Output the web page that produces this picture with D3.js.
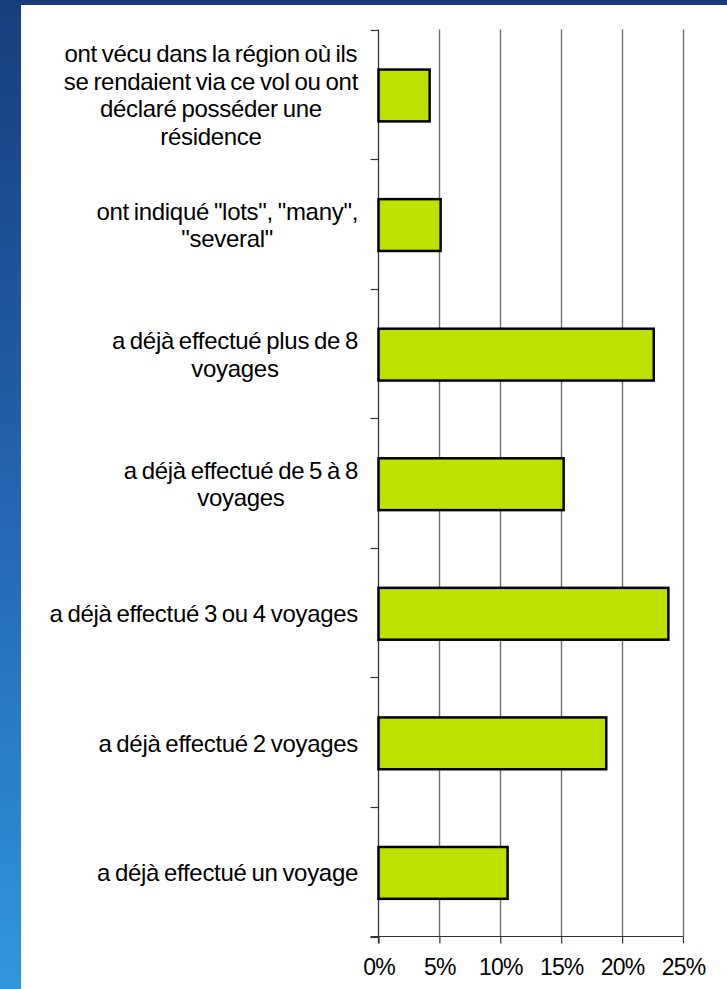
<!DOCTYPE html>
<html>
<head>
<meta charset="utf-8">
<script src="https://cdn.jsdelivr.net/npm/d3@7"></script>
<style>
  html, body { margin: 0; padding: 0; }
  body { width: 727px; height: 989px; overflow: hidden; }
  text { font-family: "Liberation Sans", Arial, sans-serif; fill: #000; }
</style>
</head>
<body>
<svg id="chart" width="727" height="989"></svg>
<script>
// ---- data ----
const categories = [
  "ont vécu dans la région où ils|se rendaient via ce vol ou ont|déclaré posséder une|résidence",
  "ont indiqué \"lots\", \"many\",|\"several\"",
  "a déjà effectué plus de 8|voyages",
  "a déjà effectué de 5 à 8|voyages",
  "a déjà effectué 3 ou 4 voyages",
  "a déjà effectué 2 voyages",
  "a déjà effectué un voyage"
];
const values = [4.2, 5.1, 22.6, 15.2, 23.8, 18.7, 10.6];
const tickValues = [0, 5, 10, 15, 20, 25];
const tickLabels = ["0%", "5%", "10%", "15%", "20%", "25%"];

// ---- layout ----
const svg = d3.select("#chart");
const W = 727, H = 989;
const plot = { left: 378.5, right: 683, top: 29.5, bottom: 936.5 };

// background
const defs = svg.append("defs");
const grad = defs.append("linearGradient").attr("id", "bg").attr("x1", 0).attr("y1", 0).attr("x2", 0).attr("y2", 1);
grad.append("stop").attr("offset", "0%").attr("stop-color", "#183d7d");
grad.append("stop").attr("offset", "50%").attr("stop-color", "#2464b0");
grad.append("stop").attr("offset", "100%").attr("stop-color", "#2f98db");
svg.append("rect").attr("x", 0).attr("y", 0).attr("width", W).attr("height", H).attr("fill", "url(#bg)");
svg.append("rect").attr("x", 21).attr("y", 5).attr("width", W - 21).attr("height", H - 5).attr("fill", "#fff");

const x = d3.scaleLinear().domain([0, 25]).range([plot.left, plot.right]);
const y = d3.scaleBand().domain(categories).range([plot.top, plot.bottom]).paddingInner(0.6).paddingOuter(0.3);
const yEdge = d3.scaleLinear().domain([0, categories.length]).range([plot.top, plot.bottom]);

// gridlines
svg.append("g").selectAll("line").data(tickValues.filter(d => d > 0)).join("line")
  .attr("x1", d => Math.round(x(d)) + 0.5).attr("x2", d => Math.round(x(d)) + 0.5)
  .attr("y1", plot.top).attr("y2", plot.bottom)
  .attr("stroke", "#6e6e6e").attr("stroke-width", 1.4);

// bottom axis
const xAxis = d3.axisBottom(x).tickValues(tickValues).tickSize(7).tickPadding(15)
  .tickFormat((d, i) => tickLabels[i]);
const gx = svg.append("g").attr("transform", `translate(0,${plot.bottom})`).call(xAxis);
gx.select(".domain").remove();
gx.selectAll(".tick line").attr("stroke", "#333").attr("stroke-width", 1.2);
gx.selectAll(".tick text").attr("font-size", "23px").attr("fill", "#000")
  .style("font-family", "'Liberation Sans', Arial, sans-serif").attr("letter-spacing", "-0.8px");
svg.append("line").attr("x1", plot.left - 8).attr("x2", plot.right).attr("y1", plot.bottom).attr("y2", plot.bottom)
  .attr("stroke", "#333").attr("stroke-width", 1.2);

// left axis
svg.append("line").attr("x1", plot.left).attr("x2", plot.left).attr("y1", plot.top).attr("y2", plot.bottom + 7)
  .attr("stroke", "#333").attr("stroke-width", 1.3);
svg.append("g").selectAll("line").data(d3.range(categories.length + 1)).join("line")
  .attr("x1", plot.left - 8).attr("x2", plot.left)
  .attr("y1", d => Math.round(yEdge(d)) + 0.5).attr("y2", d => Math.round(yEdge(d)) + 0.5)
  .attr("stroke", "#333").attr("stroke-width", 1.2);

// bars
svg.append("g").selectAll("rect").data(categories).join("rect")
  .attr("x", x(0))
  .attr("y", d => y(d) + 1.2)
  .attr("width", (d, i) => x(values[i]) - x(0))
  .attr("height", y.bandwidth())
  .attr("fill", "#bee200")
  .attr("stroke", "#000").attr("stroke-width", 2.5);

// category labels
const labelRight = 358;
const lineH = 27.5;
const lg = svg.append("g");
categories.forEach(c => {
  const lines = c.split("|");
  const cy = y(c) + y.bandwidth() / 2 + 1;
  const t = lg.append("text").attr("font-size", "24px").attr("text-anchor", "middle")
    .attr("letter-spacing", "-0.3px").attr("word-spacing", "-1.5px");
  const spans = lines.map((ln, k) => t.append("tspan").text(ln)
    .attr("y", cy + (k - (lines.length - 1) / 2) * lineH).attr("dy", "0.35em"));
  const maxW = d3.max(spans, s => s.node().getComputedTextLength());
  spans.forEach(s => s.attr("x", labelRight - maxW / 2));
});
</script>
</body>
</html>
